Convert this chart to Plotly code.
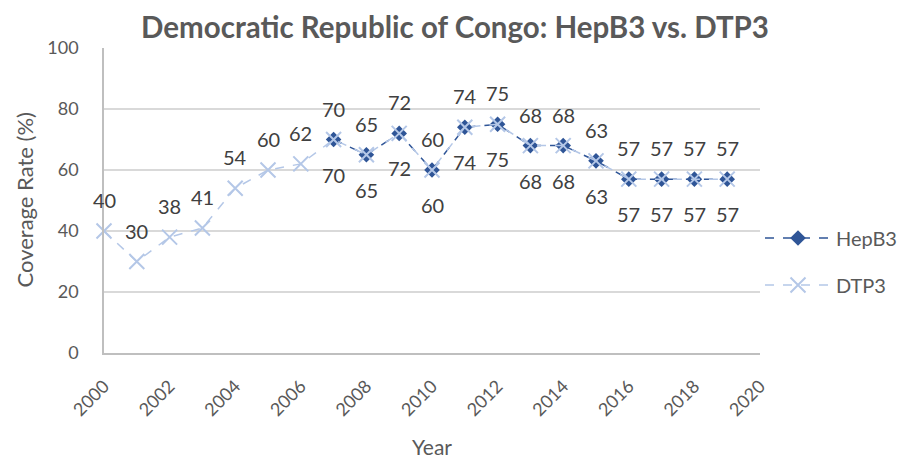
import plotly.graph_objects as go

years_dtp3 = list(range(2000, 2020))
dtp3 = [40, 30, 38, 41, 54, 60, 62, 70, 65, 72, 60, 74, 75, 68, 68, 63, 57, 57, 57, 57]
years_hepb3 = list(range(2007, 2020))
hepb3 = [70, 65, 72, 60, 74, 75, 68, 68, 63, 57, 57, 57, 57]

FONT = "Lato"
GRAY = "#595959"
LABEL = "#404040"

fig = go.Figure()
fig.add_trace(go.Scatter(
    x=years_hepb3, y=hepb3, name="HepB3", mode="lines+markers",
    line=dict(color="#2F5597", width=1.5, dash="dash"),
    marker=dict(symbol="diamond", size=12, color="#2F5597"),
    legendgroup="a", cliponaxis=False,
))
fig.add_trace(go.Scatter(
    x=years_dtp3, y=dtp3, name="DTP3", mode="lines+markers",
    line=dict(color="#B4C7E7", width=1.5, dash="dash"),
    marker=dict(symbol="x-thin", size=15, line=dict(color="#B4C7E7", width=2)),
    legendgroup="b", cliponaxis=False,
))

annotations = []
for x, y in zip(years_hepb3, hepb3):
    annotations.append(dict(x=x, y=y, xref="x", yref="y", text=str(y), showarrow=False,
                            yshift=-35, font=dict(size=20, color=LABEL, family=FONT)))
for x, y in zip(years_dtp3, dtp3):
    annotations.append(dict(x=x, y=y, xref="x", yref="y", text=str(y), showarrow=False,
                            yshift=31, font=dict(size=20, color=LABEL, family=FONT)))

# axis titles
annotations.append(dict(text="Coverage Rate (%)", xref="paper", yref="paper", x=0, y=0.5,
                        xanchor="center", yanchor="middle", xshift=-80, textangle=-90,
                        showarrow=False, font=dict(size=22, color=GRAY, family=FONT)))
annotations.append(dict(text="Year", xref="paper", yref="paper", x=0.5, y=0,
                        xanchor="center", yanchor="middle", yshift=-93,
                        showarrow=False, font=dict(size=21, color=GRAY, family=FONT)))

fig.update_layout(
    width=906, height=462,
    margin=dict(l=96, r=148, t=40, b=117),
    paper_bgcolor="white", plot_bgcolor="white",
    font=dict(family=FONT, color=GRAY, size=18),
    annotations=annotations,
    title=dict(text="<b>Democratic Republic of Congo: HepB3 vs. DTP3</b>",
               x=0.4934, xref="container", xanchor="center",
               y=0.958, yanchor="middle",
               font=dict(size=29.5, color=GRAY, family=FONT)),
    xaxis=dict(range=[2000, 2020], tickvals=list(range(2000, 2021, 2)),
               tickangle=-45, showgrid=False, zeroline=False, automargin=False,
               showline=True, linecolor="#BFBFBF", linewidth=1.5,
               ticks="", ticklabelstandoff=14, tickfont=dict(size=18, color=GRAY)),
    yaxis=dict(range=[0, 100], tickvals=list(range(0, 101, 20)),
               showgrid=True, gridcolor="#D9D9D9", gridwidth=1.5, zeroline=False,
               showline=True, linecolor="#BFBFBF", linewidth=1.5, automargin=False,
               ticks="", ticklen=0, ticklabelstandoff=20, tickfont=dict(size=18, color=GRAY)),
    legend=dict(x=1.0, xanchor="left", y=0.30, yanchor="middle",
                font=dict(size=20, color=GRAY), tracegroupgap=18, itemwidth=66,
                traceorder="grouped", bgcolor="rgba(0,0,0,0)"),
    showlegend=True,
)

fig.write_html("out.html")
